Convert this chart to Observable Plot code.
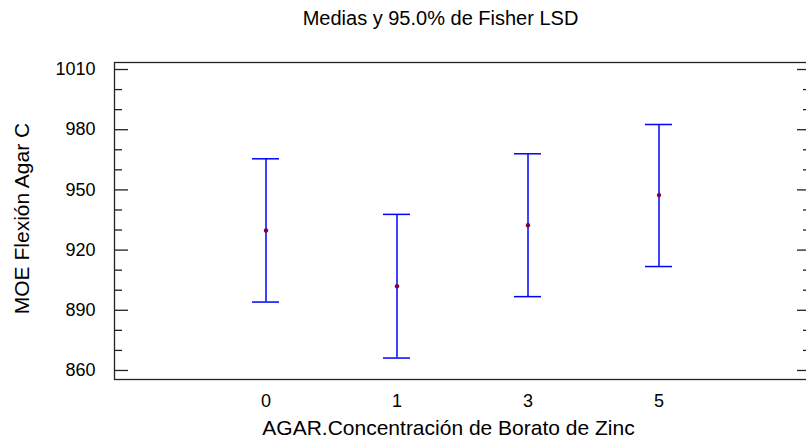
<!DOCTYPE html>
<html>
<head>
<meta charset="utf-8">
<script src="https://cdn.jsdelivr.net/npm/d3@7"></script>
<script src="https://cdn.jsdelivr.net/npm/@observablehq/plot@0.6"></script>
<style>
  html, body { margin: 0; padding: 0; background: #fff; overflow: hidden; }
  #chart { width: 806px; height: 444px; overflow: hidden; }
</style>
</head>
<body>
<div id="chart"></div>
<script>
const categories = ["0", "1", "3", "5"];
const means = [929.8, 902.0, 932.4, 947.4];
const lower = [894.1, 866.2, 896.8, 911.8];
const upper = [965.5, 937.8, 968.0, 982.6];
const majorTicks = [860, 890, 920, 950, 980, 1010];
const minorTicks = [870, 880, 900, 910, 930, 940, 960, 970, 990, 1000];
const titleText = "Medias y 95.0% de Fisher LSD";
const xTitle = "AGAR.Concentración de Borato de Zinc";
const yTitle = "MOE Flexión Agar C";

const data = categories.map((c, i) => ({cat: c, mean: means[i], lo: lower[i], hi: upper[i]}));

const font = "'Liberation Sans', Arial, sans-serif";
const chart = Plot.plot({
  width: 806,
  height: 444,
  marginLeft: 114,
  marginRight: -4,
  marginTop: 62,
  marginBottom: 65,
  style: {fontFamily: font, fontSize: "18px", background: "#fff", color: "#000", overflow: "hidden"},
  x: {type: "band", domain: categories, paddingInner: 0.7944, paddingOuter: 1.0477},
  y: {domain: [855.5, 1013.5]},
  marks: [
    Plot.frame({stroke: "#222", strokeWidth: 1.3}),
    Plot.axisY({anchor: "left", ticks: majorTicks, tickFormat: "d", tickSize: 0, tickPadding: 19, label: null, fontSize: 18}),
    Plot.axisY({anchor: "left", ticks: majorTicks, tickSize: -14, text: null, label: null, stroke: "#222", strokeWidth: 1.3}),
    Plot.axisY({anchor: "left", ticks: minorTicks, tickSize: -8, text: null, label: null, stroke: "#222", strokeWidth: 1.3}),
    Plot.axisY({anchor: "right", ticks: majorTicks, tickSize: -14, text: null, label: null, stroke: "#222", strokeWidth: 1.3}),
    Plot.axisY({anchor: "right", ticks: minorTicks, tickSize: -8, text: null, label: null, stroke: "#222", strokeWidth: 1.3}),
    Plot.axisX({anchor: "bottom", tickSize: 0, tickPadding: 15, label: null, fontSize: 18}),
    Plot.ruleX(data, {x: "cat", y1: "lo", y2: "hi", stroke: "#0000ff", strokeWidth: 1.5}),
    Plot.tickY(data, {x: "cat", y: "hi", stroke: "#0000ff", strokeWidth: 1.5}),
    Plot.tickY(data, {x: "cat", y: "lo", stroke: "#0000ff", strokeWidth: 1.5}),
    Plot.dot(data, {x: "cat", y: "mean", r: 2.2, fill: "#800040", stroke: null}),
    Plot.text([titleText], {frameAnchor: "top", dx: -22, dy: -44, lineAnchor: "middle", textAnchor: "middle", fontSize: 20, fill: "#000"}),
    Plot.text([xTitle], {frameAnchor: "bottom", dx: -14, dy: 49, lineAnchor: "middle", textAnchor: "middle", fontSize: 21, fill: "#000"}),
    Plot.text([yTitle], {frameAnchor: "left", dx: -92, dy: -2.5, rotate: -90, lineAnchor: "middle", textAnchor: "middle", fontSize: 21, fill: "#000"})
  ]
});
document.getElementById("chart").appendChild(chart);
</script>
</body>
</html>
